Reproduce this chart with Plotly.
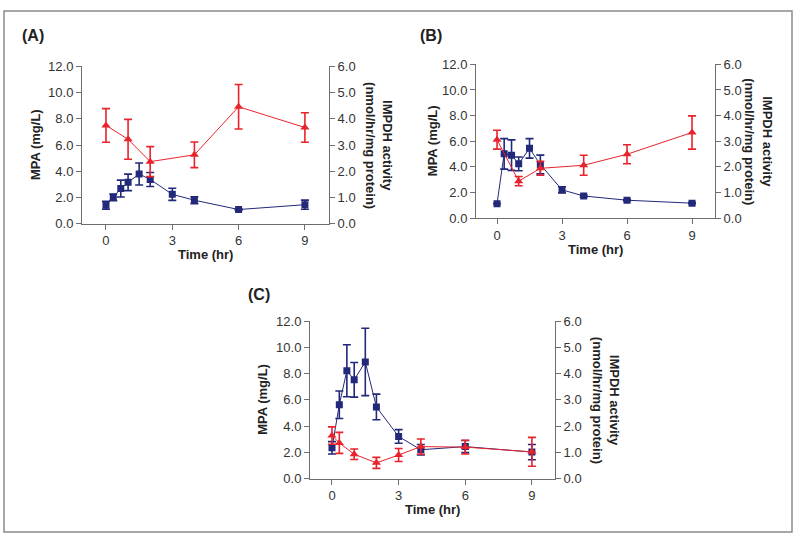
import plotly.graph_objects as go

W, H = 800, 544

# ---------------- data ----------------
t_mpa = [0, 0.33, 0.67, 1, 1.5, 2, 3, 4, 6, 9]
t_imp = [0, 1, 2, 4, 6, 9]
t_imp_c = [0, 0.33, 1, 2, 3, 4, 6, 9]

mpa_a = [1.41, 2.02, 2.69, 3.16, 3.80, 3.38, 2.25, 1.80, 1.09, 1.46]
mpa_a_err = [0.30, 0.25, 0.64, 0.63, 0.84, 0.53, 0.46, 0.26, 0.05, 0.35]
imp_a = [3.75, 3.22, 2.37, 2.63, 4.46, 3.67]
imp_a_err = [0.64, 0.76, 0.57, 0.49, 0.85, 0.56]

mpa_b = [1.12, 5.01, 4.91, 4.23, 5.44, 4.18, 2.20, 1.72, 1.39, 1.16]
mpa_b_err = [0, 1.19, 1.19, 0.54, 0.76, 0.73, 0.24, 0.08, 0.05, 0.05]
imp_b = [3.06, 1.44, 1.94, 2.06, 2.49, 3.34]
imp_b_err = [0.37, 0.18, 0.27, 0.39, 0.37, 0.65]

mpa_c = [2.35, 5.63, 8.22, 7.53, 8.89, 5.46, 3.21, 2.20, 2.44, 2.02]
mpa_c_err = [0.47, 1.05, 1.98, 1.32, 2.57, 0.98, 0.52, 0.40, 0.46, 0.58]
imp_c = [1.64, 1.36, 0.93, 0.60, 0.90, 1.22, 1.20, 1.02]
imp_c_err = [0.33, 0.40, 0.20, 0.21, 0.25, 0.29, 0.26, 0.55]

x_ticks = [0, 3, 6, 9]
mpa_ticks = [0, 2, 4, 6, 8, 10, 12]
imp_ticks = [0, 1, 2, 3, 4, 5, 6]
panel_labels = ["(A)", "(B)", "(C)"]
x_title = "Time (hr)"
left_title = "MPA (mg/L)"
right_title_1 = "IMPDH activity"
right_title_2 = "(nmol/hr/mg protein)"

# ---------------- style ----------------
BLUE = "#22287a"
RED = "#e8232b"
AXIS = "#6e6e6e"
TXT = "#333333"
FONT = "Arial, Liberation Sans, sans-serif"


def px(x):
    return x / W


def py(y):
    return 1 - y / H


# panel geometry in pixels: left axis x, right axis x, top y, bottom y, x range
panels = [
    dict(l=82, r=329, t=61, b=223, xr=[-1.085, 10.09]),
    dict(l=476, r=715, t=59, b=217, xr=[-0.97, 10.06]),
    dict(l=310, r=555, t=323, b=485, xr=[-0.99, 10.04]),
]
mpa_sets = [(mpa_a, mpa_a_err), (mpa_b, mpa_b_err), (mpa_c, mpa_c_err)]
imp_sets = [(t_imp, imp_a, imp_a_err), (t_imp, imp_b, imp_b_err), (t_imp_c, imp_c, imp_c_err)]
label_pos = [(33, 29), (431, 29), (259, 296)]
xtitle_y = [255, 249, 517]
ltitle_off = [47, 44, 47]
rtitle_off = [(42, 59), (35, 53), (42, 59)]

fig = go.Figure()
layout = dict(
    width=W, height=H, margin=dict(l=0, r=0, t=0, b=0),
    paper_bgcolor="white", plot_bgcolor="rgba(0,0,0,0)", showlegend=False,
    font=dict(family=FONT, size=13, color=TXT),
)
annotations = []


def ann(x, y, text, size=13, angle=0):
    return dict(x=px(x), y=py(y), xref="paper", yref="paper", text=text,
                showarrow=False, textangle=angle, xanchor="center", yanchor="middle",
                font=dict(family=FONT, size=size, color="#222"))


for i, p in enumerate(panels):
    xa = "x" if i == 0 else f"x{i+1}"
    ya_l = "y" if i == 0 else f"y{2*i+1}"
    ya_r = f"y{2*i+2}"
    xkey = "xaxis" if i == 0 else f"xaxis{i+1}"
    ylkey = "yaxis" if i == 0 else f"yaxis{2*i+1}"
    yrkey = f"yaxis{2*i+2}"

    common = dict(showline=True, linecolor=AXIS, linewidth=1, ticks="outside",
                  ticklen=5, tickcolor=AXIS, tickwidth=1, showgrid=False,
                  zeroline=False, tickfont=dict(family=FONT, size=13, color=TXT))
    layout[xkey] = dict(domain=[px(p["l"]), px(p["r"])], range=p["xr"], anchor=ya_l,
                        tickvals=x_ticks, **common)
    layout[ylkey] = dict(domain=[py(p["b"]), py(p["t"])], range=[0, 12], anchor=xa,
                         tickvals=mpa_ticks, tickformat=".1f", **common)
    layout[yrkey] = dict(range=[0, 6], overlaying=ya_l, side="right", anchor=xa,
                         tickvals=imp_ticks, tickformat=".1f", **common)

    m, me = mpa_sets[i]
    fig.add_trace(go.Scatter(
        x=t_mpa, y=m, xaxis=xa, yaxis=ya_l, mode="lines+markers",
        line=dict(color=BLUE, width=1),
        marker=dict(symbol="square", size=7, color=BLUE),
        error_y=dict(type="data", array=me, visible=True, color=BLUE, thickness=1.6, width=4),
    ))
    ti, v, ve = imp_sets[i]
    fig.add_trace(go.Scatter(
        x=ti, y=v, xaxis=xa, yaxis=ya_r, mode="lines+markers",
        line=dict(color=RED, width=1),
        marker=dict(symbol="triangle-up", size=8, color=RED),
        error_y=dict(type="data", array=ve, visible=True, color=RED, thickness=1.6, width=4),
    ))

    ymid = (p["t"] + p["b"]) / 2
    annotations.append(ann(label_pos[i][0], label_pos[i][1], f"<b>{panel_labels[i]}</b>", size=16))
    annotations.append(ann((p["l"] + p["r"]) / 2, xtitle_y[i], f"<b>{x_title}</b>"))
    annotations.append(ann(p["l"] - ltitle_off[i], ymid, f"<b>{left_title}</b>", angle=-90))
    annotations.append(ann(p["r"] + rtitle_off[i][1], ymid, f"<b>{right_title_1}</b>", angle=90))
    annotations.append(ann(p["r"] + rtitle_off[i][0], ymid, f"<b>{right_title_2}</b>", angle=90))

layout["annotations"] = annotations
layout["shapes"] = [dict(type="rect", xref="paper", yref="paper",
                         x0=px(4), x1=px(792), y0=py(540), y1=py(4),
                         line=dict(color="#8a8a8a", width=1.5))]
fig.update_layout(**layout)
fig.write_html("out.html", config={"displayModeBar": False},
               post_script="document.body.style.margin='0';document.body.style.overflow='hidden';")
